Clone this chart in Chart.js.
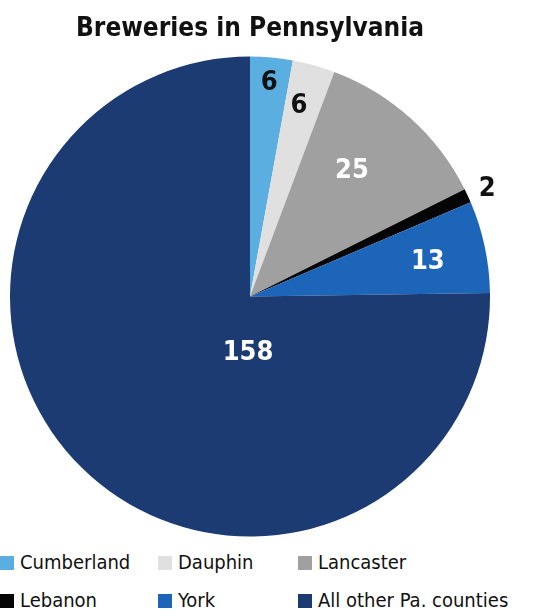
<!DOCTYPE html>
<html>
<head>
<meta charset="utf-8">
<script src="https://cdn.jsdelivr.net/npm/chart.js@4/dist/chart.umd.min.js"></script>
<style>
  body { margin: 0; background: #fff; width: 533px; height: 616px; overflow: hidden; position: relative; }
  #pieChart { position: absolute; left: 0; top: 0; }
  .legend { position: absolute; font-family: "DejaVu Sans Condensed", "Liberation Sans Narrow", sans-serif; font-size: 20px; color: #111; white-space: nowrap; }
  .legend span.box { display: inline-block; width: 14px; height: 14px; margin-right: 6px; vertical-align: -1px; }
</style>
</head>
<body>
<canvas id="pieChart" width="533" height="537"></canvas>
<div id="legend"></div>
<script>
const counties = ['Cumberland', 'Dauphin', 'Lancaster', 'Lebanon', 'York', 'All other Pa. counties'];
const breweries = [6, 6, 25, 2, 13, 158];
const sliceColors = ['#5aaee0', '#e0e0e0', '#a0a0a0', '#050505', '#1d65b8', '#1b3b72'];
const labelColors = ['#111', '#111', '#fff', '#111', '#fff', '#fff'];

// where each value label sits: fraction of radius, and angle shift in degrees
const labelSpots = [
    { r: 0.895, da: 0 },
    { r: 0.82, da: -1 },
    { r: 0.675, da: -3 },
    { r: 1.085, da: 0.5 },
    { r: 0.755, da: 1 },
    { r: 0.235, da: -42.6 }
];

const valueLabels = {
    id: 'valueLabels',
    afterDatasetsDraw(chart) {
        const ctx = chart.ctx;
        const arcs = chart.getDatasetMeta(0).data;
        ctx.save();
        ctx.font = 'bold 27px "DejaVu Sans Condensed", "Liberation Sans Narrow", sans-serif';
        ctx.textAlign = 'center';
        ctx.textBaseline = 'middle';
        arcs.forEach((arc, i) => {
            const p = arc.getProps(['x', 'y', 'startAngle', 'endAngle', 'outerRadius'], true);
            const a = (p.startAngle + p.endAngle) / 2 + labelSpots[i].da * Math.PI / 180;
            const r = p.outerRadius * labelSpots[i].r;
            ctx.fillStyle = labelColors[i];
            ctx.fillText(String(breweries[i]), p.x + Math.cos(a) * r, p.y + Math.sin(a) * r);
        });
        ctx.restore();
    }
};

new Chart(document.getElementById('pieChart').getContext('2d'), {
    type: 'pie',
    data: {
        labels: counties,
        datasets: [{
            data: breweries,
            backgroundColor: sliceColors,
            borderWidth: 0
        }]
    },
    options: {
        responsive: false,
        animation: false,
        layout: { padding: { left: 10, right: 43, top: 0, bottom: 0 } },
        plugins: {
            legend: { display: false },
            tooltip: { enabled: false },
            title: {
                display: true,
                fullSize: false,
                text: 'Breweries in Pennsylvania',
                color: '#111',
                font: { family: '"DejaVu Sans Condensed", "Liberation Sans Narrow", sans-serif', size: 26, weight: 'bold', lineHeight: 1.2 },
                padding: { top: 14, bottom: 11 }
            }
        }
    },
    plugins: [valueLabels]
});

// legend in two rows of three
const legendCols = [0, 158, 298];
const legendRows = [550, 588];
const legendEl = document.getElementById('legend');
counties.forEach((name, i) => {
    const item = document.createElement('div');
    item.className = 'legend';
    item.style.left = legendCols[i % 3] + 'px';
    item.style.top = legendRows[Math.floor(i / 3)] + 'px';
    item.innerHTML = '<span class="box" style="background:' + sliceColors[i] + '"></span>' + name;
    legendEl.appendChild(item);
});
</script>
</body>
</html>
